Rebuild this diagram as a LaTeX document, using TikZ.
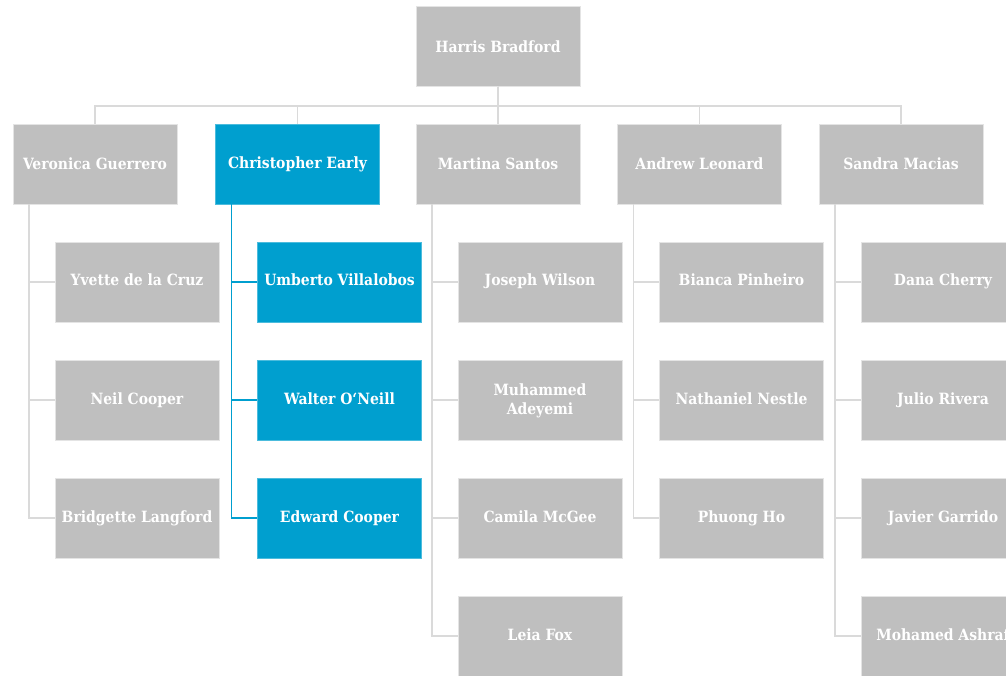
\documentclass[tikz,border=0pt]{standalone}
\usepackage{fontspec}
\setmainfont{DejaVu Serif Condensed}
\usepackage{xcolor}
\definecolor{ogray}{HTML}{BFBFBF}
\definecolor{oblue}{HTML}{009FCF}
\definecolor{oline}{HTML}{DADADA}
\definecolor{oedge}{HTML}{E4E4E4}
\usetikzlibrary{positioning,calc}

\begin{document}
\begin{tikzpicture}[x=1pt,y=-1pt,
  person/.style={rectangle,draw=oedge,fill=ogray,text=white,minimum width=164pt,minimum height=80pt,
    inner sep=2pt,align=center,font=\fontsize{15.5}{19}\selectfont\bfseries},
  hilite/.style={person,fill=oblue,draw=oblue!70!white},
  link/.style={oline,line width=1.6pt},
  hilink/.style={oblue,line width=1.6pt}]
\clip (0,0) rectangle (1006,676);
\fill[white] (0,0) rectangle (1006,676);
% top of the chart
\node[person] (hb) at (498,46.5) {Harris Bradford};
% second level: 5 managers
\node[person] (vg) at (95,164) {Veronica Guerrero};
\node[hilite] (ce) at (297.5,164) {Christopher Early};
\node[person] (ms) at (498,164) {Martina Santos};
\node[person] (al) at (699.5,164) {Andrew Leonard};
\node[person] (sm) at (901,164) {Sandra Macias};
\foreach \n in {vg,ce,ms,al,sm}{ \draw[link] (hb.south) -- ++(0,19.5) -| (\n.north); }
% reports, stacked under each manager
\foreach \p/\s/\l/\kids in {
  vg/person/link/{Yvette de la Cruz,Neil Cooper,Bridgette Langford},
  ce/hilite/hilink/{Umberto Villalobos,Walter O‘Neill,Edward Cooper},
  ms/person/link/{Joseph Wilson,{Muhammed\\Adeyemi},Camila McGee,Leia Fox},
  al/person/link/{Bianca Pinheiro,Nathaniel Nestle,Phuong Ho},
  sm/person/link/{Dana Cherry,Julio Rivera,Javier Garrido,Mohamed Ashraf}}{
  \foreach \k [count=\i] in \kids{
    \node[\s] (\p\i) at ($(\p.south)+(42,\i*118-40)$) {\strut\k};
    \draw[\l] ($(\p.south west)+(16,0)$) |- (\p\i.west);
  }}
\end{tikzpicture}
\end{document}
